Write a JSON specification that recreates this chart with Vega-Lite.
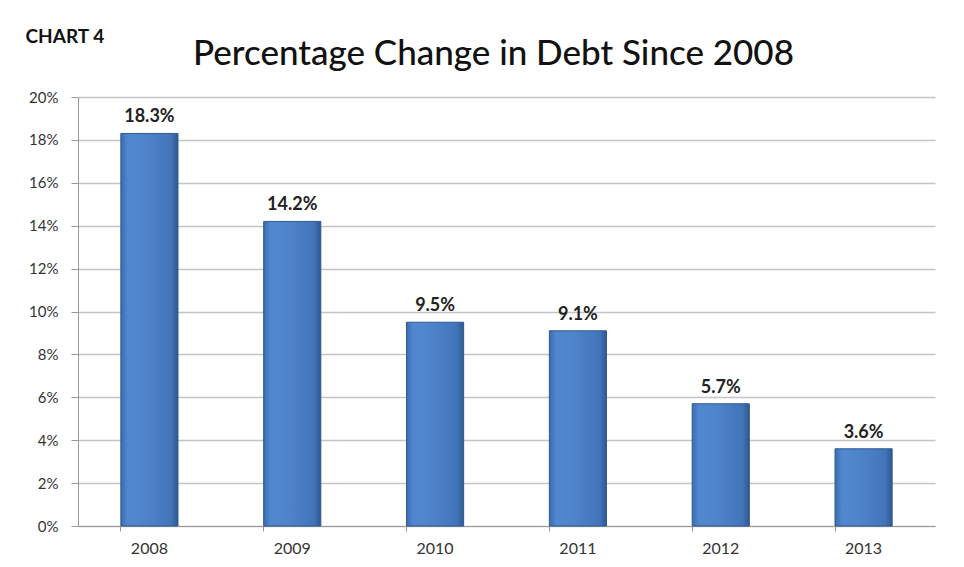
{
  "$schema": "https://vega.github.io/schema/vega-lite/v6.json",
  "autosize": {"type": "none"},
  "width": 857,
  "height": 429,
  "padding": {"left": 78, "top": 97, "right": 29, "bottom": 41},
  "background": "white",
  "title": {
    "text": "Percentage Change in Debt Since 2008",
    "anchor": "middle",
    "frame": "group",
    "dx": -13,
    "offset": -45,
    "font": "Lato",
    "fontSize": 35,
    "fontWeight": 500,
    "color": "#111111"
  },
  "data": {
    "values": [
      {"year": "2008", "pct": 0.183},
      {"year": "2009", "pct": 0.142},
      {"year": "2010", "pct": 0.095},
      {"year": "2011", "pct": 0.091},
      {"year": "2012", "pct": 0.057},
      {"year": "2013", "pct": 0.036}
    ]
  },
  "encoding": {
    "x": {
      "field": "year",
      "type": "nominal",
      "scale": {"paddingInner": 0.6, "paddingOuter": 0.3},
      "axis": {
        "title": null,
        "labelAngle": 0,
        "bandPosition": 0,
        "labelFont": "Lato",
        "labelFontSize": 16,
        "labelColor": "#333333",
        "labelPadding": 9,
        "tickSize": 5,
        "tickColor": "#999999",
        "domainColor": "#999999",
        "grid": false
      }
    },
    "y": {
      "field": "pct",
      "type": "quantitative",
      "scale": {"domain": [0, 0.2]},
      "axis": {
        "title": "CHART 4",
        "titleAngle": 0,
        "titleAlign": "left",
        "titleBaseline": "alphabetic",
        "titleX": -53,
        "titleY": -55,
        "titleFont": "Lato",
        "titleFontSize": 19,
        "titleFontWeight": "bold",
        "titleColor": "#111111",
        "values": [0, 0.02, 0.04, 0.06, 0.08, 0.1, 0.12, 0.14, 0.16, 0.18, 0.2],
        "format": ".0%",
        "labelFont": "Lato",
        "labelFontSize": 15,
        "labelColor": "#333333",
        "labelPadding": 13,
        "tickSize": 7,
        "tickColor": "#999999",
        "domainColor": "#999999",
        "gridColor": "#c4c4c4",
        "gridWidth": 1.3
      }
    }
  },
  "layer": [
    {
      "mark": {
        "type": "bar",
        "stroke": "#30598e",
        "strokeWidth": 1,
        "fill": {
          "gradient": "linear",
          "x1": 0, "y1": 0, "x2": 1, "y2": 0,
          "stops": [
            {"offset": 0, "color": "#3b6caf"},
            {"offset": 0.12, "color": "#5088cf"},
            {"offset": 0.5, "color": "#4d82c8"},
            {"offset": 0.88, "color": "#4274b9"},
            {"offset": 1, "color": "#2e5891"}
          ]
        }
      }
    },
    {
      "mark": {
        "type": "text",
        "baseline": "bottom",
        "dy": -7,
        "font": "Lato",
        "fontSize": 18,
        "fontWeight": "bold",
        "color": "#222222"
      },
      "encoding": {
        "text": {"field": "pct", "type": "quantitative", "format": ".1%"}
      }
    }
  ],
  "config": {
    "view": {"stroke": null}
  }
}
